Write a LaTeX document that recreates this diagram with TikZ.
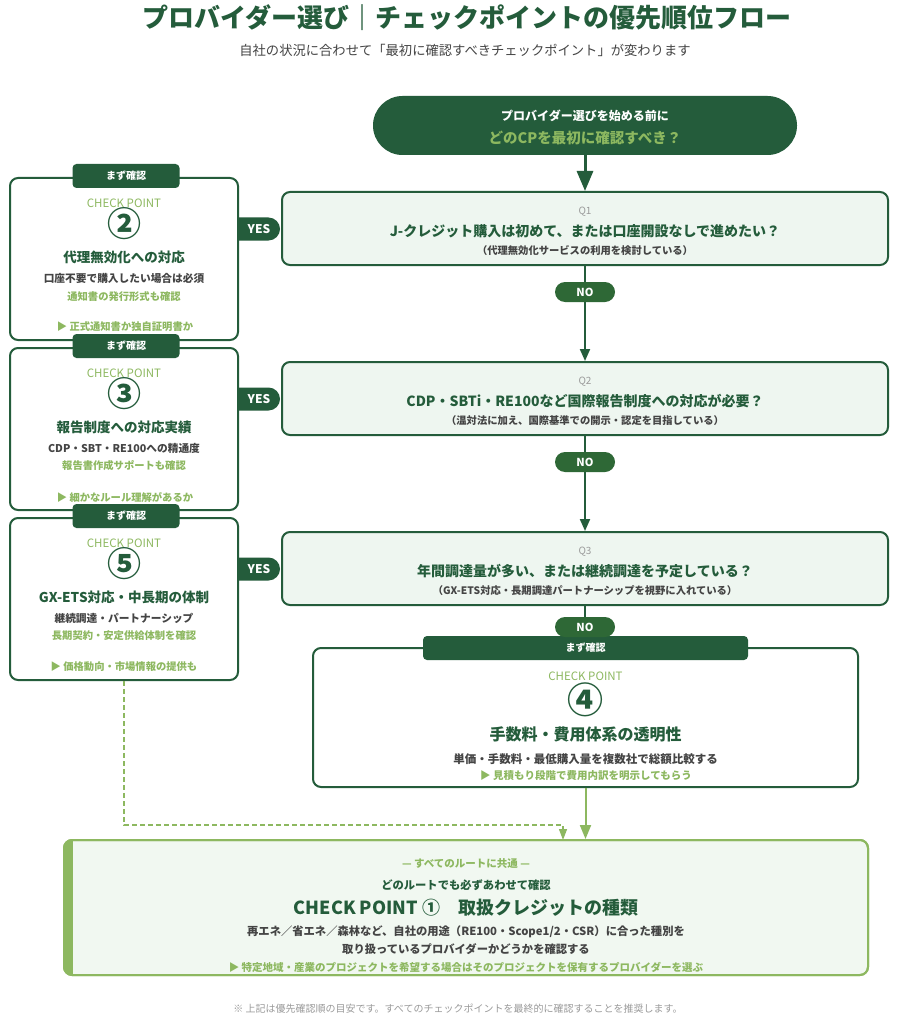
\documentclass[tikz,border=0pt]{standalone}
\usepackage{fontspec}
\setmainfont{Noto Sans CJK JP}
\usetikzlibrary{arrows.meta}
\definecolor{dkg}{HTML}{245C3B}
\definecolor{nog}{HTML}{2E6836}
\definecolor{ltg}{HTML}{8DB860}
\definecolor{qfill}{HTML}{EEF6F0}
\definecolor{ffill}{HTML}{F1F8F1}
\definecolor{txg}{HTML}{444444}
\definecolor{lgray}{HTML}{9A9A9A}
\newcommand\myfs[1]{\fontsize{#1}{#1}\selectfont}
\tikzset{
  txt/.style={inner sep=0pt, outer sep=0pt, anchor=center},
  qbox/.style={draw=dkg, line width=2pt, fill=qfill, rounded corners=8pt, minimum width=606, minimum height=73, inner sep=0pt},
  cpbox/.style={draw=dkg, line width=2pt, fill=white, rounded corners=8pt, minimum width=228, minimum height=162, inner sep=0pt},
  tabbox/.style={fill=dkg, rounded corners=4pt, minimum width=107, minimum height=24, inner sep=0pt, text=white, font=\bfseries\myfs{10}},
  nopill/.style={fill=nog, rounded corners=10pt, minimum width=60, minimum height=20, inner sep=0pt, text=white, font=\bfseries\myfs{11}},
  yespill/.style={fill=dkg, rounded corners=11.5pt, minimum width=54, minimum height=23, inner sep=0pt},
  yestext/.style={txt, text=white, font=\bfseries\myfs{12}},
  cplabel/.style={txt, text=ltg, font=\myfs{11.5}},
  cpnum/.style={txt, text=dkg, font=\bfseries\myfs{34}},
  cptitle/.style={txt, text=dkg, font=\bfseries\myfs{13.5}},
  cpbody/.style={txt, text=txg, font=\bfseries\myfs{10.7}},
  cpsub/.style={txt, text=ltg, font=\bfseries\myfs{10.3}},
  qlabel/.style={txt, text=lgray, font=\myfs{10}},
  qmain/.style={txt, text=dkg, font=\bfseries\myfs{14}},
  qsub/.style={txt, text=txg, font=\bfseries\myfs{10.3}},
  darr/.style={draw=dkg, line width=2pt, -{Triangle[width=10pt,length=12pt]}},
  larr/.style={draw=ltg, line width=2pt, -{Triangle[width=11pt,length=14pt]}},
  ldash/.style={draw=ltg, line width=1.3pt, dashed, dash pattern=on 5pt off 3pt, -{Triangle[width=8pt,length=11pt]}},
}
\begin{document}
\begin{tikzpicture}[x=1pt,y=-1pt]
\useasboundingbox[fill=white] (0,0) rectangle (899,1024);

% title
\node[txt, text=dkg, font=\bfseries\myfs{26}] (title) at (467,18) {プロバイダー選び｜チェックポイントの優先順位フロー};
\node[txt, text=txg, font=\myfs{13.3}] (subtitle) at (465,50) {自社の状況に合わせて「最初に確認すべきチェックポイント」が変わります};

% start
\node[fill=dkg, rounded corners=29.5pt, minimum width=424, minimum height=59, inner sep=0pt] (start) at (585,125.5) {};
\node[txt, text=white, font=\bfseries\myfs{12}] (st1) at (585,116) {プロバイダー選びを始める前に};
\node[txt, text=ltg, font=\bfseries\myfs{14.5}] (st2) at (585,138) {どのCPを最初に確認すべき？};

% YES pills (behind boxes)
\node[yespill] (yes1) at (253,229) {};
\node[yespill] (yes2) at (253,399) {};
\node[yespill] (yes3) at (253,569) {};

% question boxes
\node[qbox] (q1) at (585,228.5) {};
\node[qbox] (q2) at (585,398.5) {};
\node[qbox] (q3) at (585,568.5) {};

% connectors
\draw[dkg, line width=3pt, -{Triangle[width=16pt,length=20pt]}] (start.south) -- (q1.north);
\draw[darr] (q1.south) -- (q2.north);
\draw[darr] (q2.south) -- (q3.north);

% left check point boxes
\node[cpbox] (cp2) at (124,259) {};
\node[cpbox] (cp3) at (124,429) {};
\node[cpbox] (cp5) at (124,599) {};
\node[tabbox] (t2) at (126,176) {まず確認};
\node[tabbox] (t3) at (126,346) {まず確認};
\node[tabbox] (t5) at (126,516) {まず確認};

\node[yestext] at (yes1.center) [xshift=6pt] {YES};
\node[yestext] at (yes2.center) [xshift=6pt] {YES};
\node[yestext] at (yes3.center) [xshift=6pt] {YES};

% CP2
\node[cplabel] at (124,203) {CHECK POINT};
\node[cpnum] at (124,224) {②};
\node[cptitle] at (124,257) {代理無効化への対応};
\node[cpbody] at (124,278) {口座不要で購入したい場合は必須};
\node[cpsub] at (124,297) {通知書の発行形式も確認};
\node[cpsub] at (125,327) {▶ 正式通知書か独自証明書か};

% CP3
\node[cplabel] at (124,373) {CHECK POINT};
\node[cpnum] at (124,394) {③};
\node[cptitle] at (124,427) {報告制度への対応実績};
\node[cpbody] at (124,448) {CDP・SBT・RE100への精通度};
\node[cpsub] at (124,466) {報告書作成サポートも確認};
\node[cpsub] at (125,497) {▶ 細かなルール理解があるか};

% CP5
\node[cplabel] at (124,543) {CHECK POINT};
\node[cpnum] at (124,564) {⑤};
\node[cptitle] at (124,597) {GX-ETS対応・中長期の体制};
\node[cpbody] at (124,618) {継続調達・パートナーシップ};
\node[cpsub] at (124,636) {長期契約・安定供給体制を確認};
\node[cpsub] at (124,667) {▶ 価格動向・市場情報の提供も};

% question texts
\node[qlabel] at (585,212) {Q1};
\node[qmain] at (585,231) {J-クレジット購入は初めて、または口座開設なしで進めたい？};
\node[qsub] at (585,251) {（代理無効化サービスの利用を検討している）};
\node[qlabel] at (585,382) {Q2};
\node[qmain] at (585,401) {CDP・SBTi・RE100など国際報告制度への対応が必要？};
\node[qsub] at (585,421) {（温対法に加え、国際基準での開示・認定を目指している）};
\node[qlabel] at (585,552) {Q3};
\node[qmain] at (585,571) {年間調達量が多い、または継続調達を予定している？};
\node[qsub] at (585,591) {（GX-ETS対応・長期調達パートナーシップを視野に入れている）};

% CP4
\node[cpbox, minimum width=545, minimum height=139] (cp4) at (585.5,717.5) {};
\draw[dkg, line width=2pt] (q3.south) -- (585,627);
\node[tabbox, minimum width=325] (t4) at (585.5,648) {まず確認};
\node[nopill] (no3) at (585,627) {NO};
\node[nopill] (no1) at (585,292) {NO};
\node[nopill] (no2) at (585,462) {NO};
\node[txt, text=ltg, font=\myfs{11.5}] at (585.5,676) {CHECK POINT};
\node[txt, text=dkg, font=\bfseries\myfs{36}] at (585.5,700) {④};
\node[txt, text=dkg, font=\bfseries\myfs{16}] at (585.5,734) {手数料・費用体系の透明性};
\node[txt, text=txg, font=\bfseries\myfs{11.5}] at (585.5,759) {単価・手数料・最低購入量を複数社で総額比較する};
\node[txt, text=ltg, font=\bfseries\myfs{10.5}] at (586,776) {▶ 見積もり段階で費用内訳を明示してもらう};

% final box
\node[draw=ltg, line width=2pt, fill=ffill, rounded corners=8pt, minimum width=804, minimum height=135, inner sep=0pt] (final) at (466,907.5) {};
\begin{scope}
  \clip[rounded corners=8pt] (64,840) rectangle (868,975);
  \fill[ltg] (63,839) rectangle (73,976);
\end{scope}
\draw[ltg, line width=2pt, rounded corners=8pt] (64,840) rectangle (868,975);

\coordinate (dturn) at (124,825);
\coordinate (dend) at (563,840);
\draw[ldash] (cp5.south) -- (dturn) -| (dend);
\draw[larr] (cp4.south) -- (cp4.south |- final.north);

\node[txt, text=ltg, font=\bfseries\myfs{10.5}] at (466,864) {— すべてのルートに共通 —};
\node[txt, text=dkg, font=\bfseries\myfs{11.3}] at (466,885) {どのルートでも必ずあわせて確認};
\node[txt, text=dkg, font=\bfseries\myfs{18}] at (466,908) {CHECK POINT ①　取扱クレジットの種類};
\node[txt, text=txg, font=\bfseries\myfs{11.3}] at (466,932) {再エネ／省エネ／森林など、自社の用途（RE100・Scope1/2・CSR）に合った種別を};
\node[txt, text=txg, font=\bfseries\myfs{11.3}] at (466,949) {取り扱っているプロバイダーかどうかを確認する};
\node[txt, text=ltg, font=\bfseries\myfs{10.5}] at (466,967) {▶ 特定地域・産業のプロジェクトを希望する場合はそのプロジェクトを保有するプロバイダーを選ぶ};

% footer
\node[txt, text=lgray, font=\myfs{10}] (footer) at (458,1009) {※ 上記は優先確認順の目安です。すべてのチェックポイントを最終的に確認することを推奨します。};
\end{tikzpicture}
\end{document}
